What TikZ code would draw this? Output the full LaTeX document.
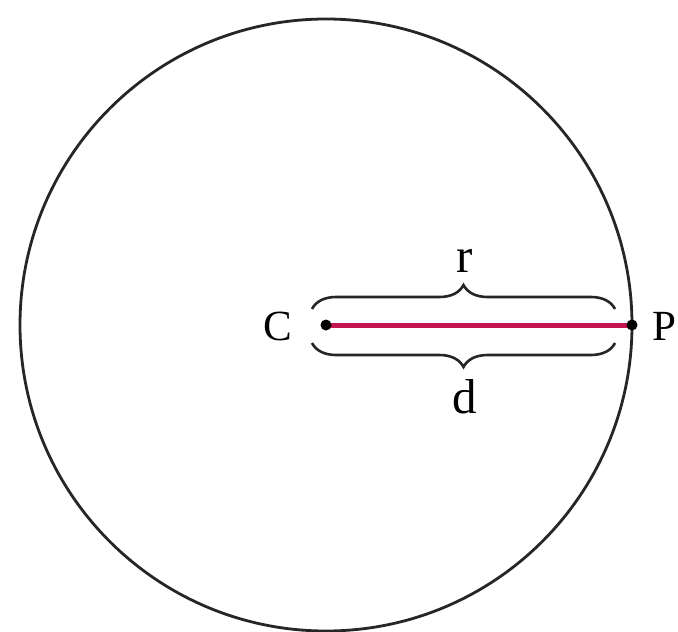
\documentclass[tikz,border=0pt]{standalone}
\usepackage{fontspec}
\setmainfont{Liberation Serif}
\usetikzlibrary{decorations.pathreplacing}
\definecolor{radred}{RGB}{196,22,78}
\tikzset{
  lab/.style={inner sep=0pt, font=\fontsize{43}{43}\selectfont},
  lowlab/.style={inner sep=0pt, font=\fontsize{49}{49}\selectfont},
  dotnode/.style={circle, fill=black, inner sep=0pt, minimum size=11pt},
  circline/.style={line width=2.8pt, draw=black!85},
  radline/.style={line width=5pt, draw=radred},
  bracestyle/.style={line width=2.6pt, draw=black!85, decorate,
    decoration={brace, amplitude=24pt}},
}
\begin{document}
\begin{tikzpicture}[x=1pt, y=-1pt]
  \useasboundingbox (0,0) rectangle (678,632);
  \fill[white] (0,0) rectangle (678,632);
  \coordinate (C) at (326,325);
  \coordinate (P) at (632,325);
  \coordinate (tb1) at (312,309);
  \coordinate (tb2) at (615,309);
  \coordinate (bb1) at (312,343);
  \coordinate (bb2) at (615,343);
  \draw[circline] (C) circle[radius=306];
  \draw[radline] (C) -- (P);
  \node[dotnode] (Cdot) at (C) {};
  \node[dotnode] (Pdot) at (P) {};
  \draw[bracestyle] (tb1) -- (tb2);
  \draw[bracestyle, decoration={mirror}] (bb1) -- (bb2);
  \node[lab] (Clab) at (278,326) {C};
  \node[lab] (Plab) at (664,326) {P};
  \node[lowlab] (rlab) at (465,261) {r};
  \node[lowlab] (dlab) at (465,397) {d};
\end{tikzpicture}
\end{document}
